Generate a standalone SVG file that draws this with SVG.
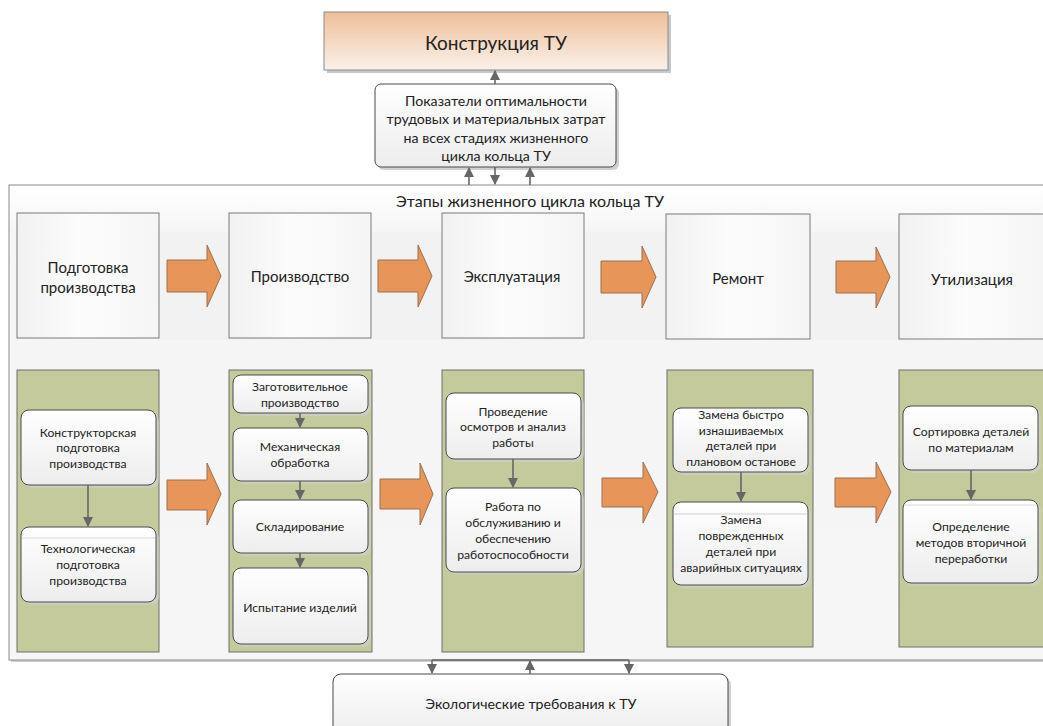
<svg xmlns="http://www.w3.org/2000/svg" width="1043" height="726" viewBox="0 0 1043 726">
<defs>
<linearGradient id="gOrange" x1="0" y1="0" x2="0" y2="1">
<stop offset="0" stop-color="#efbf98"/><stop offset="1" stop-color="#faf1ea"/>
</linearGradient>
<linearGradient id="gFrame" x1="0" y1="0" x2="0" y2="1">
<stop offset="0" stop-color="#ffffff"/><stop offset="0.1" stop-color="#f5f5f5"/><stop offset="1" stop-color="#f6f6f6"/>
</linearGradient>
<linearGradient id="gStage" x1="0" y1="0" x2="1" y2="0">
<stop offset="0" stop-color="#f1f1f1"/><stop offset="0.45" stop-color="#fcfcfc"/><stop offset="1" stop-color="#f5f5f5"/>
</linearGradient>
<linearGradient id="gBox" x1="0" y1="0" x2="0" y2="1">
<stop offset="0" stop-color="#ffffff"/><stop offset="1" stop-color="#ededed"/>
</linearGradient>
<marker id="ah" viewBox="0 0 10 10" refX="9" refY="5" markerWidth="10" markerHeight="10" markerUnits="userSpaceOnUse" orient="auto">
<path d="M0,0 L10,5 L0,10 z" fill="#666"/>
</marker>
<style>
text{font-family:Lato,"Open Sans","Liberation Sans",sans-serif;fill:#222;text-anchor:middle;dominant-baseline:central}
.stage{fill:url(#gStage);stroke:#7a7a7a;stroke-width:1}
.col{fill:#c4ca9c;stroke:#6f6f6f;stroke-width:1}
.box{fill:url(#gBox);stroke:#4a4a4a;stroke-width:1}
.shadow{fill:#d0d0d0;opacity:0.6}
.arr{fill:#e8955a;stroke:#9a7050;stroke-width:1}
.con{stroke:#666;stroke-width:1.6;fill:none}
.s{font-size:12.2px}
.m{font-size:15px}
.i{font-size:14.2px}
</style>
</defs>

<!-- big frame -->
<g id="frame">
<rect x="11" y="188" width="1040" height="474" fill="#cfcfcf"/>
<rect x="9" y="185" width="1040" height="475" fill="url(#gFrame)" stroke="#8a8a8a"/>
<rect x="160" y="232" width="740" height="108" fill="#f1f1f1" opacity="0.7"/>
<text x="530" y="200" style="font-size:16px">Этапы жизненного цикла кольца ТУ</text>
</g>

<g id="top">
<rect x="327" y="15" width="344" height="58" fill="#c8c8c8"/>
<rect x="324" y="12" width="344" height="58" fill="url(#gOrange)" stroke="#8a8a8a"/>
<text x="496" y="42" style="font-size:19px">Конструкция ТУ</text>
</g>

<g id="indicators">
<rect x="378" y="87" width="241" height="83" rx="6" fill="#d0d0d0"/>
<rect x="375" y="84" width="241" height="83" rx="6" class="box"/>
<text x="496" y="100" class="i">Показатели оптимальности</text>
<text x="496" y="118" class="i">трудовых и материальных затрат</text>
<text x="496" y="137" class="i">на всех стадиях жизненного</text>
<text x="496" y="155" class="i">цикла кольца ТУ</text>
</g>

<g id="ecology">
<rect x="336" y="677" width="395" height="60" rx="8" fill="#d0d0d0"/>
<rect x="333" y="674" width="395" height="60" rx="8" class="box"/>
<text x="531" y="703" class="i">Экологические требования к ТУ</text>
</g>

<!-- stage boxes -->
<g id="stage1"><rect x="17" y="213" width="142" height="125" class="stage"/>
<text x="88" y="267" class="m">Подготовка</text><text x="88" y="287" class="m">производства</text></g>
<g id="stage2"><rect x="229" y="213" width="142" height="125" class="stage"/>
<text x="300" y="276" class="m">Производство</text></g>
<g id="stage3"><rect x="442" y="213" width="142" height="125" class="stage"/>
<text x="512" y="276" class="m">Эксплуатация</text></g>
<g id="stage4"><rect x="666" y="214" width="144" height="125" class="stage"/>
<text x="738" y="278" class="m">Ремонт</text></g>
<g id="stage5"><rect x="899" y="214" width="150" height="125" class="stage"/>
<text x="972" y="279" class="m">Утилизация</text></g>

<!-- upper orange arrows -->
<g id="arrowsTop">
<path class="arr" d="M167,260 H207 V245 L221,276 L207,307 V292 H167 Z"/>
<path class="arr" d="M378,260 H418 V245 L432,276 L418,307 V292 H378 Z"/>
<path class="arr" d="M601,261 H642 V246 L656,277 L642,308 V293 H601 Z"/>
<path class="arr" d="M836,261 H876 V247 L890,277 L876,308 V293 H836 Z"/>
</g>

<!-- green columns -->
<g id="col1"><rect x="17" y="370" width="142" height="282" class="col"/></g>
<g id="col2"><rect x="229" y="370" width="143" height="282" class="col"/></g>
<g id="col3"><rect x="442" y="370" width="142" height="282" class="col"/></g>
<g id="col4"><rect x="667" y="370" width="146" height="277" class="col"/></g>
<g id="col5"><rect x="899" y="370" width="150" height="277" class="col"/></g>

<!-- lower orange arrows -->
<g id="arrowsBottom">
<path class="arr" d="M167,480 H207 V463 L221,494 L207,525 V510 H167 Z"/>
<path class="arr" d="M380,479 H420 V463 L433,494 L420,525 V509 H380 Z"/>
<path class="arr" d="M602,478 H643 V462 L658,492 L643,523 V507 H602 Z"/>
<path class="arr" d="M835,478 H876 V462 L891,492 L876,523 V507 H835 Z"/>
</g>

<!-- column 1 boxes -->
<g id="b11"><rect x="24" y="413" width="135" height="75" rx="8" class="shadow"/><rect x="21" y="410" width="135" height="75" rx="8" class="box"/>
<text x="88" y="432" class="s">Конструкторская</text><text x="88" y="447" class="s">подготовка</text><text x="88" y="463" class="s">производства</text></g>
<g id="b12"><rect x="24" y="530" width="135" height="75" rx="8" class="shadow"/><rect x="21" y="527" width="135" height="75" rx="8" class="box"/>
<line x1="22" y1="538" x2="155" y2="538" stroke="#d8d8d8"/>
<text x="88" y="548" class="s">Технологическая</text><text x="88" y="564" class="s">подготовка</text><text x="88" y="580" class="s">производства</text></g>

<!-- column 2 boxes -->
<g id="b21"><rect x="236" y="378" width="135" height="38" rx="8" class="shadow"/><rect x="233" y="375" width="135" height="38" rx="8" class="box"/>
<text x="300" y="386" class="s">Заготовительное</text><text x="300" y="402" class="s">производство</text></g>
<g id="b22"><rect x="236" y="431" width="135" height="53" rx="8" class="shadow"/><rect x="233" y="428" width="135" height="53" rx="8" class="box"/>
<text x="300" y="446" class="s">Механическая</text><text x="300" y="462" class="s">обработка</text></g>
<g id="b23"><rect x="236" y="503" width="135" height="53" rx="8" class="shadow"/><rect x="233" y="500" width="135" height="53" rx="8" class="box"/>
<text x="300" y="526" class="s">Складирование</text></g>
<g id="b24"><rect x="236" y="571" width="135" height="76" rx="8" class="shadow"/><rect x="233" y="568" width="135" height="76" rx="8" class="box"/>
<text x="300" y="607" class="s">Испытание изделий</text></g>

<!-- column 3 boxes -->
<g id="b31"><rect x="449" y="396" width="135" height="66" rx="8" class="shadow"/><rect x="446" y="393" width="135" height="66" rx="8" class="box"/>
<text x="513" y="411" class="s">Проведение</text><text x="513" y="426" class="s">осмотров и анализ</text><text x="513" y="442" class="s">работы</text></g>
<g id="b32"><rect x="449" y="491" width="135" height="84" rx="8" class="shadow"/><rect x="446" y="488" width="135" height="84" rx="8" class="box"/>
<text x="513" y="506" class="s">Работа по</text><text x="513" y="522" class="s">обслуживанию и</text><text x="513" y="538" class="s">обеспечению</text><text x="513" y="554" class="s">работоспособности</text></g>

<!-- column 4 boxes -->
<g id="b41"><rect x="676" y="411" width="135" height="64" rx="8" class="shadow"/><rect x="673" y="408" width="135" height="64" rx="8" class="box"/>
<text x="741" y="414" class="s">Замена быстро</text><text x="741" y="430" class="s">изнашиваемых</text><text x="741" y="445" class="s">деталей при</text><text x="741" y="461" class="s">плановом останове</text></g>
<g id="b42"><rect x="676" y="505" width="135" height="83" rx="8" class="shadow"/><rect x="673" y="502" width="135" height="83" rx="8" class="box"/>
<line x1="674" y1="514" x2="807" y2="514" stroke="#cfcfcf"/>
<text x="741" y="519" class="s">Замена</text><text x="741" y="535" class="s">поврежденных</text><text x="741" y="551" class="s">деталей при</text><text x="741" y="567" class="s">аварийных ситуациях</text></g>

<!-- column 5 boxes -->
<g id="b51"><rect x="906" y="409" width="135" height="64" rx="8" class="shadow"/><rect x="903" y="406" width="135" height="64" rx="8" class="box"/>
<text x="971" y="431" class="s">Сортировка деталей</text><text x="971" y="447" class="s">по материалам</text></g>
<g id="b52"><rect x="906" y="503" width="135" height="83" rx="8" class="shadow"/><rect x="903" y="500" width="135" height="83" rx="8" class="box"/>
<line x1="904" y1="505" x2="1037" y2="505" stroke="#d8d8d8"/>
<text x="971" y="526" class="s">Определение</text><text x="971" y="542" class="s">методов вторичной</text><text x="971" y="558" class="s">переработки</text></g>

<!-- connectors -->
<g id="connectors">
<line class="con" x1="495" y1="84" x2="495" y2="71" marker-end="url(#ah)"/>
<line class="con" x1="469" y1="185" x2="469" y2="168" marker-end="url(#ah)"/>
<line class="con" x1="495" y1="167" x2="495" y2="184" marker-end="url(#ah)"/>
<line class="con" x1="530" y1="185" x2="530" y2="168" marker-end="url(#ah)"/>
<line class="con" x1="88" y1="485" x2="88" y2="526" marker-end="url(#ah)"/>
<line class="con" x1="300" y1="413" x2="300" y2="427" marker-end="url(#ah)"/>
<line class="con" x1="300" y1="481" x2="300" y2="499" marker-end="url(#ah)"/>
<line class="con" x1="300" y1="553" x2="300" y2="567" marker-end="url(#ah)"/>
<line class="con" x1="513" y1="459" x2="513" y2="487" marker-end="url(#ah)"/>
<line class="con" x1="741" y1="472" x2="741" y2="501" marker-end="url(#ah)"/>
<line class="con" x1="971" y1="470" x2="971" y2="499" marker-end="url(#ah)"/>
<polyline class="con" points="432,660 629,660"/>
<line class="con" x1="432" y1="660" x2="432" y2="673" marker-end="url(#ah)"/>
<line class="con" x1="530" y1="674" x2="530" y2="661" marker-end="url(#ah)"/>
<line class="con" x1="629" y1="660" x2="629" y2="673" marker-end="url(#ah)"/>
</g>
</svg>
